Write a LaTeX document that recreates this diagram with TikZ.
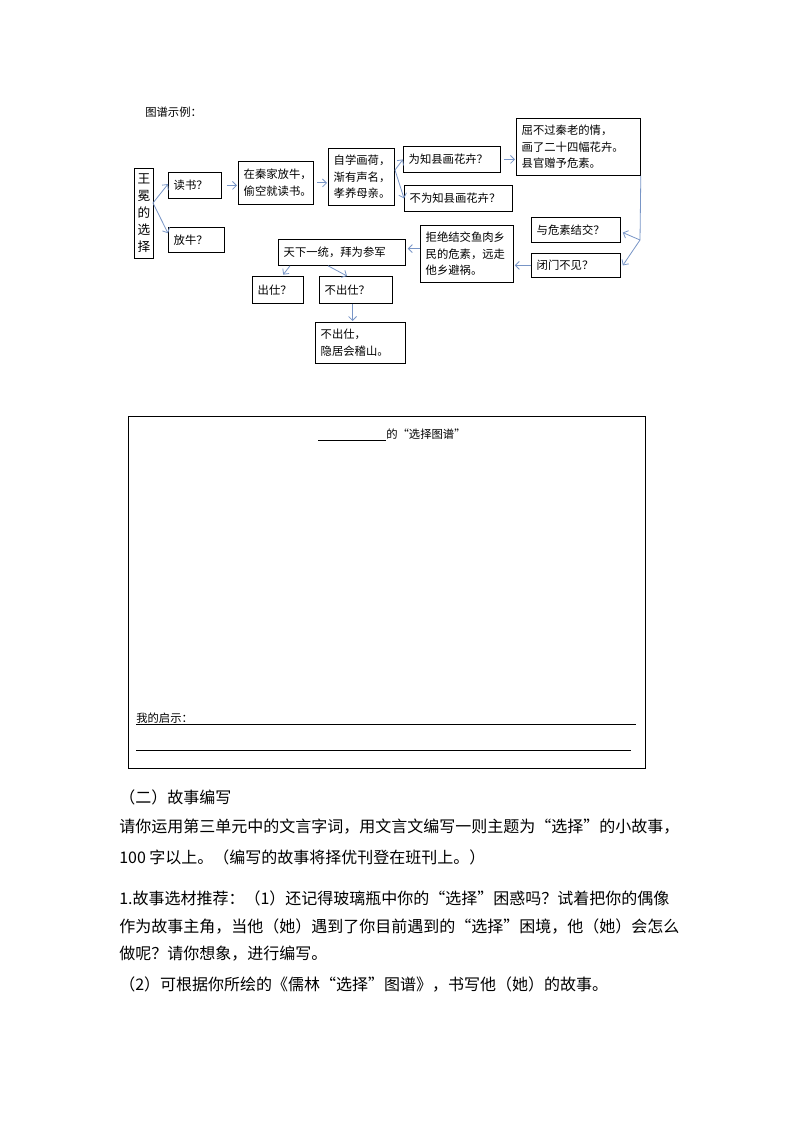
\documentclass[tikz,border=0pt]{standalone}
\usepackage{fontspec}
\setmainfont{Noto Sans CJK SC}
\usetikzlibrary{arrows.meta,calc}
\definecolor{arrowblue}{HTML}{7895C6}
\begin{document}
\begin{tikzpicture}[x=0.75pt,y=-0.75pt,
  box/.style={draw=black, line width=0.6pt, inner xsep=4pt, inner ysep=0pt,
    align=left, font=\fontsize{8.5}{12.4}\selectfont, anchor=north west},
  arr/.style={draw=arrowblue, line width=0.6pt, -{Straight Barb[length=3pt,width=6pt]}},
  plain/.style={draw=arrowblue, line width=0.6pt},
  small/.style={font=\fontsize{8.5}{12}\selectfont, inner sep=0pt},
  body/.style={font=\fontsize{12}{16}\selectfont, inner sep=0pt, anchor=west}]
\useasboundingbox (0,0) rectangle (794,1123);

\node[small, anchor=west] (lbl) at (145,112) {图谱示例：};

% boxes
\node[box, align=center, inner xsep=0pt, minimum width=14.25pt, minimum height=67.5pt,
  font=\fontsize{9.5}{12.8}\selectfont] (wm) at (134,168) {王\\冕\\的\\选\\择};
\node[box, text width=31.75pt, minimum height=19.5pt] (ds) at (168,172) {读书？};
\node[box, text width=34pt, minimum height=18.75pt] (fn) at (168,227) {放牛？};
\node[box, text width=48pt, minimum height=32.25pt] (qj) at (238,161) {在秦家放牛，\\偷空就读书。};
\node[box, text width=41.5pt, minimum height=42.75pt] (zx) at (328,148) {自学画荷，\\渐有声名，\\孝养母亲。};
\node[box, text width=64.75pt, minimum height=19.5pt] (wz) at (403,146) {为知县画花卉？};
\node[box, text width=73pt, minimum height=19.5pt] (bw) at (404,185) {不为知县画花卉？};
\node[box, text width=85pt, minimum height=42.75pt] (qb) at (516,118) {屈不过秦老的情，\\画了二十四幅花卉。\\县官赠予危素。};
\node[box, text width=58.75pt, minimum height=18.75pt] (yw) at (531,217) {与危素结交？};
\node[box, text width=58.75pt, minimum height=18pt] (bm) at (531,253) {闭门不见？};
\node[box, text width=61.75pt, minimum height=42.75pt] (jj) at (420,225) {拒绝结交鱼肉乡\\民的危素，远走\\他乡避祸。};
\node[box, text width=87.25pt, minimum height=19.5pt] (tx) at (278,239) {天下一统，拜为参军};
\node[box, text width=30.25pt, minimum height=20.25pt] (cs) at (252,276) {出仕？};
\node[box, text width=46.75pt, minimum height=20.25pt] (bc) at (319,276) {不出仕？};
\node[box, text width=59.5pt, minimum height=30.75pt] (yj) at (315,322) {不出仕，\\隐居会稽山。};

% connectors
\coordinate (f1) at (153,203);
\draw[arr] (f1) -- ([yshift=1pt]ds.west);
\draw[arr] (f1) -- ([yshift=5pt]fn.west);
\draw[arr, shorten <=3.75pt, shorten >=0.75pt] (ds.east) -- (ds.east -| qj.west);
\draw[arr, shorten <=3pt, shorten >=0.75pt] (qj.east) -- (qj.east -| zx.west);
\coordinate (f2) at (395,170);
\draw[arr] (f2) -- (wz.west);
\draw[arr] (f2) -- (bw.west);
\draw[arr, shorten <=2.25pt, shorten >=0.75pt] (wz.east) -- (wz.east -| qb.west);
\coordinate (f3) at (640,240);
\draw[plain] (qb.south east) -- (f3);
\draw[arr] (f3) -- ([xshift=1.5pt,yshift=-2pt]yw.east);
\draw[arr] (f3) -- ([xshift=1.5pt]bm.east);
\draw[arr, shorten >=0.75pt] (bm.west) -- (bm.west -| jj.east);
\draw[arr, shorten >=1.5pt] ([yshift=4pt]jj.west) -- ([yshift=4pt]jj.west -| tx.east);
\draw[arr] ([xshift=9pt]tx.south west) -- ([xshift=4pt,yshift=1pt]cs.north);
\draw[arr] ([xshift=37.5pt]tx.south west) -- ([xshift=21pt]bc.north west);
\draw[arr, shorten >=0.75pt] ([xshift=-2.5pt]bc.south) -- ([xshift=-2.5pt]bc.south |- yj.north);

% blank chart frame
\node[draw=black, line width=0.8pt, anchor=north west, inner sep=0pt,
  minimum width=387.75pt, minimum height=264pt] (frame) at (128,416) {};
\node[small, anchor=west] (ttl) at (386,434) {的“选择图谱”};
\draw[line width=0.6pt] (318,440) -- (ttl.west |- 0,440);
\node[small, anchor=south west] (qs) at (136,724) {我的启示：};
\draw[line width=0.6pt] (qs.south west) -- ++(500,0);
\draw[line width=0.6pt] (136,750) -- (631,750);

% text below
\node[body] (t1) at (119,797) {（二）故事编写};
\node[body] (t2) at (119,827) {请你运用第三单元中的文言字词，用文言文编写一则主题为“选择”的小故事，};
\node[body] (t3) at (119,857) {100 字以上。（编写的故事将择优刊登在班刊上。）};
\node[body] (t4) at (119,898) {1.故事选材推荐：（1）还记得玻璃瓶中你的“选择”困惑吗？试着把你的偶像};
\node[body] (t5) at (119,926) {作为故事主角，当他（她）遇到了你目前遇到的“选择”困境，他（她）会怎么};
\node[body] (t6) at (119,954) {做呢？请你想象，进行编写。};
\node[body] (t7) at (119,984) {（2）可根据你所绘的《儒林“选择”图谱》，书写他（她）的故事。};
\end{tikzpicture}
\end{document}
